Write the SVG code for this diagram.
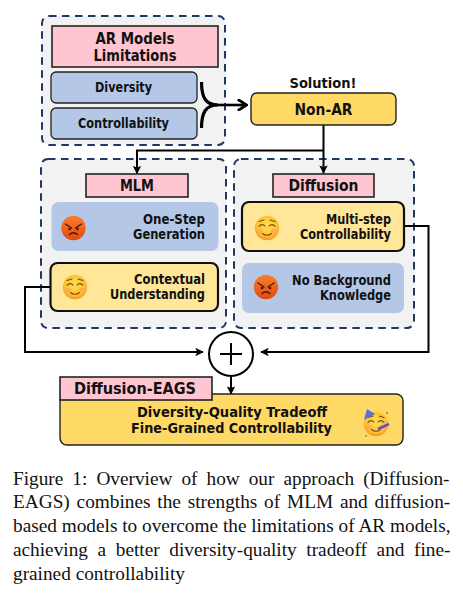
<svg xmlns="http://www.w3.org/2000/svg" width="463" height="600" viewBox="0 0 463 600">
<style>
text{font-family:"DejaVu Sans",Verdana,sans-serif;font-weight:bold;fill:#111}
.panel{fill:#f2f2f2;stroke:#1f3864;stroke-width:2;stroke-dasharray:7.5 5.5}
.pink{fill:#ffc5d0;stroke:#222;stroke-width:1.6}
.blue{fill:#b4c7e7;stroke:#222;stroke-width:1.3}
.soft{fill:#b4c7e7}
.lite{fill:#ffe699;stroke:#111;stroke-width:2.2}
.gold{fill:#ffd966;stroke:#222;stroke-width:1.4}
.conn{fill:none;stroke:#000;stroke-width:2}
.t13{font-size:13.5px;text-anchor:end}
.mid{text-anchor:middle}
.cap{font-family:"Liberation Serif",serif;font-weight:normal;font-size:19.3px;fill:#111}
.eye{fill:none;stroke:#7a4a10;stroke-width:1.1;stroke-linecap:round}
.aeye{fill:none;stroke:#4a1808;stroke-width:1.4;stroke-linecap:round}
</style>
<defs>
<marker id="a" viewBox="0 0 10 10" refX="9" refY="5" markerWidth="4.200" markerHeight="4.200" orient="auto" markerUnits="strokeWidth"><path d="M0 0L10 5L0 10L2 5Z" fill="#000"/></marker>
<marker id="o" viewBox="0 0 10 10" refX="8.500" refY="5" markerWidth="4.800" markerHeight="4.800" orient="auto" markerUnits="strokeWidth"><path d="M1.500 0.500L8.500 5L1.500 9.500" fill="none" stroke="#000" stroke-width="2.200"/></marker>
<radialGradient id="y" cx="50%" cy="40%" r="62%"><stop offset="0" stop-color="#ffdf50"/><stop offset=".7" stop-color="#fdc035"/><stop offset="1" stop-color="#f5921e"/></radialGradient>
<linearGradient id="r" x1="0" y1="0" x2="0" y2="1"><stop offset="0" stop-color="#f9802f"/><stop offset="1" stop-color="#e04a12"/></linearGradient>
<g id="smile"><circle r="12.200" fill="url(#y)"/><ellipse cx="-7" cy="3" rx="3.200" ry="2.200" fill="#f7a35c" opacity=".6"/><ellipse cx="7" cy="3" rx="3.200" ry="2.200" fill="#f7a35c" opacity=".6"/><path class="eye" d="M-8-1.500Q-5-5-2-2M2-2Q5-5 8-1.500M-8-6.500L-3-8M3-8L8-6.500M-4.500 5.500Q0 9 4.500 5.500"/></g>
<g id="angry"><circle r="12.200" fill="url(#r)"/><path class="aeye" d="M-8-4L-2 0M8-4L2 0M-4 6.500Q0 3 4 6.500"/><circle cx="-4" cy="1" r="1.300" fill="#4a1808"/><circle cx="4" cy="1" r="1.300" fill="#4a1808"/></g>
</defs>
<g id="panel-ar"><rect class="panel" x="42" y="16" width="183" height="129" rx="7"/></g>
<g id="panel-mlm"><rect class="panel" x="41" y="159" width="185" height="169" rx="7"/></g>
<g id="panel-diffusion"><rect class="panel" x="234" y="159" width="180" height="169" rx="7"/></g>
<g id="connectors">
<path class="conn" d="M201.500 82C201.500 98 206 105 218 105C206 105 201.500 112 201.500 128" style="stroke-width:3.200"/>
<path class="conn" d="M215 105H246.500" style="stroke-width:2.600" marker-end="url(#o)"/>
<path class="conn" d="M323.500 125V173" marker-end="url(#a)"/>
<path class="conn" d="M323.500 150.500H137V173.500" marker-end="url(#a)"/>
<path class="conn" d="M50 287H25V352H203" marker-end="url(#a)"/>
<path class="conn" d="M404 226H428.500V352H261" marker-end="url(#a)"/>
<path class="conn" d="M231 376V394" marker-end="url(#a)"/>
</g>
<g id="ar-title"><rect class="pink" x="52" y="26" width="166" height="41"/><text class="mid" x="135" y="44" font-size="15" textLength="79" lengthAdjust="spacingAndGlyphs">AR Models</text><text class="mid" x="135" y="61" font-size="15" textLength="83" lengthAdjust="spacingAndGlyphs">Limitations</text></g>
<g id="diversity"><rect class="blue" x="51" y="72" width="146" height="31" rx="5"/><text class="mid" x="123.500" y="92" font-size="13.500" textLength="57" lengthAdjust="spacingAndGlyphs">Diversity</text></g>
<g id="controllability"><rect class="blue" x="51" y="108" width="146" height="31" rx="5"/><text class="mid" x="123.500" y="128" font-size="13.500" textLength="91" lengthAdjust="spacingAndGlyphs">Controllability</text></g>
<g id="solution"><text class="mid" x="323" y="88" font-size="14.500" textLength="67" lengthAdjust="spacingAndGlyphs">Solution!</text></g>
<g id="non-ar"><rect class="gold" x="251" y="93" width="145" height="32" rx="6"/><text class="mid" x="323.500" y="115" font-size="15" textLength="58" lengthAdjust="spacingAndGlyphs">Non-AR</text></g>
<g id="mlm-title"><rect class="pink" x="86" y="174" width="102" height="23"/><text class="mid" x="137" y="191" font-size="15" textLength="34" lengthAdjust="spacingAndGlyphs">MLM</text></g>
<g id="one-step"><rect class="soft" x="51.500" y="202" width="167" height="49" rx="7"/><use href="#angry" x="73.500" y="228"/><text class="t13" x="205" y="224" textLength="62" lengthAdjust="spacingAndGlyphs">One-Step</text><text class="t13" x="205" y="239" textLength="72" lengthAdjust="spacingAndGlyphs">Generation</text></g>
<g id="contextual"><rect class="lite" x="50.500" y="263" width="167.500" height="48" rx="7"/><use href="#smile" x="75" y="287"/><text class="t13" x="205" y="284" textLength="71" lengthAdjust="spacingAndGlyphs">Contextual</text><text class="t13" x="205" y="299" textLength="95" lengthAdjust="spacingAndGlyphs">Understanding</text></g>
<g id="diffusion-title"><rect class="pink" x="273" y="174" width="101" height="23"/><text class="mid" x="323.500" y="191" font-size="15" textLength="70" lengthAdjust="spacingAndGlyphs">Diffusion</text></g>
<g id="multi-step"><rect class="lite" x="242" y="202" width="162" height="49" rx="7"/><use href="#smile" x="267" y="228"/><text class="t13" x="391" y="224" textLength="65" lengthAdjust="spacingAndGlyphs">Multi-step</text><text class="t13" x="391" y="239" textLength="91" lengthAdjust="spacingAndGlyphs">Controllability</text></g>
<g id="no-background"><rect class="soft" x="242" y="263" width="162" height="50" rx="7"/><use href="#angry" x="266" y="287"/><text class="t13" x="391" y="285" textLength="99" lengthAdjust="spacingAndGlyphs">No Background</text><text class="t13" x="391" y="300" textLength="71" lengthAdjust="spacingAndGlyphs">Knowledge</text></g>
<g id="plus"><circle cx="231" cy="354" r="22" fill="#fff" stroke="#000" stroke-width="2"/><path d="M220 354H242M231 343V365" stroke="#000" stroke-width="2" fill="none"/></g>
<g id="eags"><rect class="gold" x="60" y="394" width="343" height="51" rx="7"/><rect class="pink" x="60" y="377" width="152" height="23"/><text class="mid" x="135" y="394" font-size="15" textLength="122" lengthAdjust="spacingAndGlyphs">Diffusion-EAGS</text><text class="mid" x="232" y="417" font-size="14" textLength="190" lengthAdjust="spacingAndGlyphs">Diversity-Quality Tradeoff</text><text class="mid" x="231.500" y="433" font-size="14" textLength="201" lengthAdjust="spacingAndGlyphs">Fine-Grained Controllability</text><use href="#smile" x="376" y="424"/><path d="M364 420L367 409L375 414Z" fill="#5b6fd6"/><path d="M378 429L389 424" stroke="#6a4fc0" stroke-width="2.500"/><circle cx="387" cy="413" r="1" fill="#e0457a"/><circle cx="366" cy="436" r="1" fill="#3fa66a"/></g>
<g id="caption">
<text class="cap" x="13" y="485" word-spacing="4.200">Figure 1: Overview of how our approach (Diffusion-</text>
<text class="cap" x="13" y="508" word-spacing="2">EAGS) combines the strengths of MLM and diffusion-</text>
<text class="cap" x="13" y="532">based models to overcome the limitations of AR models,</text>
<text class="cap" x="13" y="556" word-spacing="4.800">achieving a better diversity-quality tradeoff and fine-</text>
<text class="cap" x="13" y="580">grained controllability</text>
</g>
</svg>
